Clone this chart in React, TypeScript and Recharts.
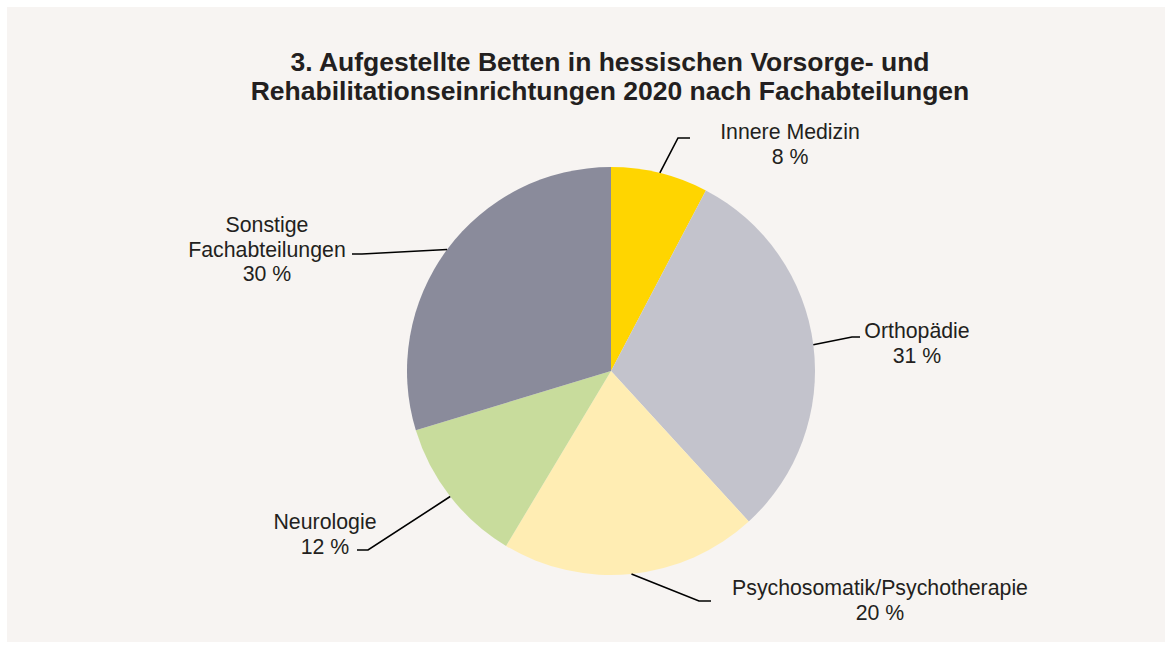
import React from "react";
import { PieChart, Pie, Cell } from "recharts";

const categories = ["Innere Medizin", "Orthopädie", "Psychosomatik/Psychotherapie", "Neurologie", "Sonstige Fachabteilungen"];
const shares = [7.7, 30.5, 20.4, 11.7, 29.7];
const shareLabels = ["8 %", "31 %", "20 %", "12 %", "30 %"];
const labelLines = [["Innere Medizin"], ["Orthopädie"], ["Psychosomatik/Psychotherapie"], ["Neurologie"], ["Sonstige", "Fachabteilungen"]];
const colors = ["#FFD500", "#C3C3CC", "#FFEDB3", "#C8DC9C", "#8A8B9B"];
const titleLines = [
  "3. Aufgestellte Betten in hessischen Vorsorge- und",
  "Rehabilitationseinrichtungen 2020 nach Fachabteilungen",
];

const data = categories.map((name, i) => ({ name, value: shares[i] }));

// elbow / line end / text centre, relative to the pie centre
const labelLayout = [
  { ex: 67, ey: -233, hx: 79, tx: 179, ty: -239 },
  { ex: 241, ey: -34, hx: 249, tx: 306, ty: -40 },
  { ex: 88, ey: 230, hx: 100, tx: 269, ty: 217 },
  { ex: -243, ey: 179, hx: -254, tx: -286, ty: 151 },
  { ex: -249, ey: -117, hx: -259, tx: -344, ty: -146 },
];

const W = 1172;
const H = 649;
const RAD = Math.PI / 180;
const FONT = "'Liberation Sans', Arial, sans-serif";

function renderLabel(props: any) {
  const { cx, cy, midAngle, outerRadius, index } = props;
  const l = labelLayout[index];
  const sx = cx + outerRadius * Math.cos(-midAngle * RAD);
  const sy = cy + outerRadius * Math.sin(-midAngle * RAD);
  const lines = [...labelLines[index], shareLabels[index]];
  return (
    <g key={"lbl" + index}>
      <polyline
        points={`${sx},${sy} ${cx + l.ex},${cy + l.ey} ${cx + l.hx},${cy + l.ey}`}
        fill="none"
        stroke="#000"
        strokeWidth={1.6}
      />
      {lines.map((t, j) => (
        <text
          key={j}
          x={cx + l.tx}
          y={cy + l.ty + j * 24.5}
          textAnchor="middle"
          dominantBaseline="central"
          fontFamily={FONT}
          fontSize={21.3}
          fill="#231F20"
        >
          {t}
        </text>
      ))}
    </g>
  );
}

export default function App() {
  return (
    <div style={{ position: "absolute", left: 0, top: 0, width: W, height: H, background: "#fff" }}>
      <div style={{ position: "absolute", left: 7, top: 7, width: 1158, height: 635, background: "#F7F4F2" }} />
      <div style={{ position: "absolute", left: 0, top: 0 }}>
        <PieChart width={W} height={H} margin={{ top: 0, right: 0, bottom: 0, left: 0 }}>
          {titleLines.map((t, i) => (
            <text
              key={i}
              x={610}
              y={62 + i * 29}
              textAnchor="middle"
              dominantBaseline="central"
              fontFamily={FONT}
              fontWeight="bold"
              fontSize={26.5}
              fill="#231F20"
            >
              {t}
            </text>
          ))}
          <Pie
            data={data}
            dataKey="value"
            nameKey="name"
            cx={611}
            cy={371}
            outerRadius={204}
            startAngle={90}
            endAngle={-270}
            stroke="none"
            label={renderLabel}
            labelLine={false}
            isAnimationActive={false}
          >
            {data.map((d, i) => (
              <Cell key={d.name} fill={colors[i]} />
            ))}
          </Pie>
        </PieChart>
      </div>
    </div>
  );
}
